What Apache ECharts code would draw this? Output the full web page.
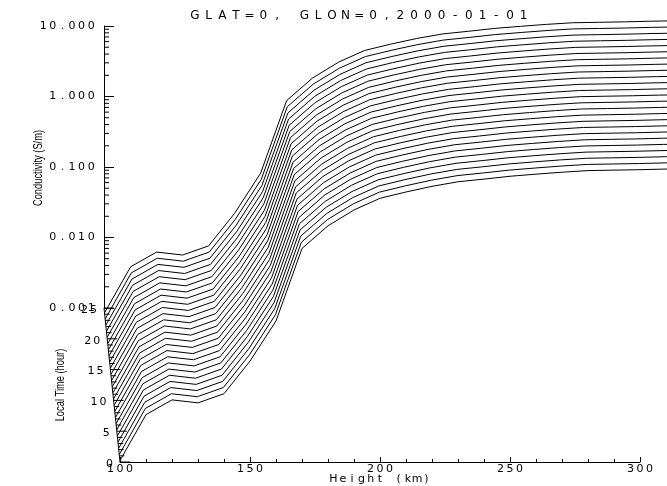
<!DOCTYPE html>
<html><head><meta charset="utf-8">
<script src="https://cdn.jsdelivr.net/npm/echarts@6/dist/echarts.min.js"></script>
<style>html,body{margin:0;padding:0;background:#fff}#c{width:667px;height:486px}</style>
</head><body><div id="c"></div>
<script>
// ---- data ----
const heights = [100,110,120,130,140,150,160,170,180,190,200,210,220,230,240,250,260,270,280,290,300,310,320];
const conductivity = [0.00105,0.0047,0.0076,0.0069,0.0093,0.027,0.100,1.07,2.24,3.76,5.50,6.76,8.13,9.44,10.3,11.3,12.1,12.9,13.6,13.8,14.0,14.3,14.5];
const localTimes = [0,1,2,3,4,5,6,7,8,9,10,11,12,13,14,15,16,17,18,19,20,21,22,23,24];
const ltTicks = [0,1,2,3,4,5,6,7,8,9,10,11,12,13,14,15,16,17,18,19,20,21,22,23,24,25];
const ltRange = [0,25];
const heightRange = [100,300];
const condRange = [0.001,10];
const titleText = 'GLAT=0, GLON=0,2000-01-01';

// ---- projection / layout constants ----
const OX = 120, OY = 462, KM_PX = 2.6, DEC_PX = 70.5, LT_DX = -0.64, LT_DY = -6.16;
const FONT = 'DejaVu Sans';
const BLACK = '#000';

function spaced(s){ return String(s).split('').map(ch => '{c|' + ch + '}').join(''); }
function richC(w, fs){ return { c: { width: w, align: 'center', fontSize: fs, fontFamily: FONT, fontWeight: 'normal', color: BLACK, lineHeight: fs + 1 } }; }

// log minor tick values for the conductivity axis
const zMinor = [];
for (let d = -3; d < 1; d++) for (let k = 2; k <= 9; k++) zMinor.push(k * Math.pow(10, d));

const grids = [], xAxes = [], yAxes = [], series = [];
const hMax = heights[heights.length - 1];
const lines = heights.map((h, i) => [h, conductivity[i]]);

localTimes.forEach((t, i) => {
  grids.push({ left: OX + LT_DX * t, top: OY + LT_DY * t - 5 * DEC_PX, width: (hMax - 100) * KM_PX, height: 5 * DEC_PX, outerBoundsMode: 'none' });
  xAxes.push({ gridIndex: i, type: 'value', min: 100, max: hMax, show: false });
  yAxes.push({ gridIndex: i, type: 'log', logBase: 10, min: 0.001, max: 100, show: false });
  series.push({ type: 'line', xAxisIndex: i, yAxisIndex: i, data: lines, showSymbol: false, symbol: 'none', clip: false, silent: true,
    lineStyle: { color: BLACK, width: 1 } });
});

// grid for the Height axis (front edge)
const gX = grids.length;
grids.push({ left: OX, top: OY - 4 * DEC_PX, width: (heightRange[1] - heightRange[0]) * KM_PX, height: 4 * DEC_PX, outerBoundsMode: 'none' });
xAxes.push({ gridIndex: gX, type: 'value', min: heightRange[0], max: heightRange[1], interval: 50,
  axisLine: { show: true, lineStyle: { color: BLACK, width: 1 } },
  axisTick: { show: true, inside: true, length: 5, lineStyle: { color: BLACK } },
  minorTick: { show: true, splitNumber: 5, length: 3, lineStyle: { color: BLACK } },
  splitLine: { show: false }, minorSplitLine: { show: false },
  axisLabel: { margin: 1, formatter: v => spaced(v), rich: richC(9.6, 11) },
  name: spaced('Height (km)'), nameLocation: 'middle', nameGap: 11, nameMoveOverlap: false,
  nameTextStyle: { rich: richC(9.3, 11) } });
yAxes.push({ gridIndex: gX, type: 'value', show: false });

// grid for the Conductivity axis (back edge, LT = 25)
const gZ = grids.length;
grids.push({ left: OX + LT_DX * ltRange[1], top: OY + LT_DY * ltRange[1] - 4 * DEC_PX, width: 200 * KM_PX, height: 4 * DEC_PX, outerBoundsMode: 'none' });
xAxes.push({ gridIndex: gZ, type: 'value', min: 0, max: 1, show: false });
yAxes.push({ gridIndex: gZ, type: 'log', logBase: 10, min: condRange[0], max: condRange[1],
  axisLine: { show: true, lineStyle: { color: BLACK, width: 1 } },
  axisTick: { show: true, inside: true, length: 10, lineStyle: { color: BLACK } },
  splitLine: { show: false },
  axisLabel: { margin: 8, formatter: v => spaced(v.toFixed(3)), rich: richC(9.6, 11) } });
series.push({ type: 'custom', xAxisIndex: gZ, yAxisIndex: gZ, silent: true, data: zMinor.map(v => [0, v]),
  renderItem: (params, api) => {
    const p = api.coord([0, api.value(1)]);
    return { type: 'line', shape: { x1: p[0], y1: p[1], x2: p[0] + 5, y2: p[1] }, style: { stroke: BLACK, lineWidth: 1 } };
  } });

// grid for the slanted Local Time axis
const gT = grids.length;
grids.push({ left: OX + LT_DX * ltRange[1], top: OY + LT_DY * ltRange[1], width: -LT_DX * ltRange[1], height: -LT_DY * ltRange[1], outerBoundsMode: 'none' });
xAxes.push({ gridIndex: gT, type: 'value', min: ltRange[0], max: ltRange[1], inverse: true, show: false });
yAxes.push({ gridIndex: gT, type: 'value', min: ltRange[0], max: ltRange[1], show: false });
series.push({ type: 'line', xAxisIndex: gT, yAxisIndex: gT, data: ltRange.map(t => [t, t]), showSymbol: false, symbol: 'none', clip: false, silent: true,
  lineStyle: { color: BLACK, width: 1 } });
series.push({ type: 'custom', xAxisIndex: gT, yAxisIndex: gT, silent: true, clip: false, data: ltTicks.map(t => [t, t]),
  renderItem: (params, api) => {
    const t = api.value(0);
    const p = api.coord([t, t]);
    const major = t % 5 === 0;
    const children = [{ type: 'line', shape: { x1: p[0], y1: p[1], x2: p[0] + (major ? 10 : 5), y2: p[1] }, style: { stroke: BLACK, lineWidth: 1 } }];
    if (major) children.push({ type: 'text', x: p[0] - 6, y: p[1] + 2,
      style: { text: spaced(t), rich: richC(9, 11), align: 'right', verticalAlign: 'middle', fill: BLACK } });
    return { type: 'group', children };
  } });

const chart = echarts.init(document.getElementById('c'), null, { renderer: 'canvas' });
chart.setOption({
  animation: false,
  backgroundColor: '#fff',
  title: { text: spaced(titleText), left: 188, top: 9, padding: 0, textStyle: { fontWeight: 'normal', rich: richC(13.7, 12) } },
  grid: grids, xAxis: xAxes, yAxis: yAxes, series,
  graphic: [
    { type: 'text', x: 39, y: 168, rotation: Math.PI / 2, scaleX: 0.745, silent: true,
      style: { text: 'Conductivity (S/m)', fontFamily: 'Liberation Sans', fontSize: 12.5, fill: BLACK, align: 'center', verticalAlign: 'middle' } },
    { type: 'text', x: 61, y: 385, rotation: Math.PI / 2, scaleX: 0.745, silent: true,
      style: { text: 'Local Time (hour)', fontFamily: 'Liberation Sans', fontSize: 12.5, fill: BLACK, align: 'center', verticalAlign: 'middle' } }
  ]
});
</script></body></html>
